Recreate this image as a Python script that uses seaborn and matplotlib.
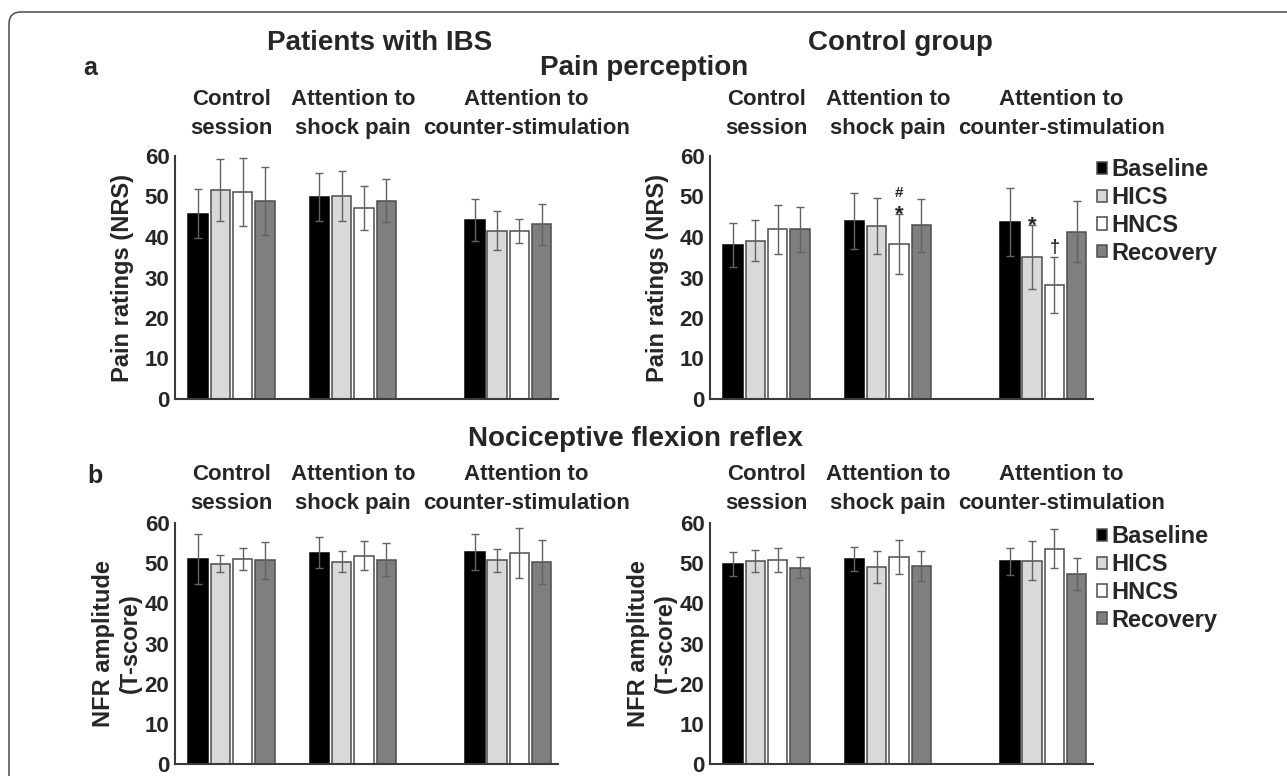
import matplotlib
matplotlib.use("Agg")
import matplotlib.pyplot as plt
import matplotlib.patches as mpatches
import matplotlib.transforms as mtransforms
from matplotlib.container import BarContainer
import pandas as pd
import seaborn as sns

# ---------------------------------------------------------------- data
sessions = ["Control\nsession", "Attention to\nshock pain", "Attention to\ncounter-stimulation"]
conditions = ["Baseline", "HICS", "HNCS", "Recovery"]

# rows = sessions, columns = conditions
ibs_pain_mean = [[45.8, 51.6, 51.1, 48.9], [49.9, 50.1, 47.1, 49.0], [44.1, 41.6, 41.4, 43.1]]
ibs_pain_err = [[6.1, 7.6, 8.4, 8.4], [5.9, 6.1, 5.4, 5.2], [5.2, 4.8, 3.0, 5.0]]
ctrl_pain_mean = [[38.0, 39.1, 41.9, 41.9], [43.9, 42.8, 38.3, 42.9], [43.7, 35.1, 28.2, 41.3]]
ctrl_pain_err = [[5.5, 5.0, 6.0, 5.5], [6.9, 6.9, 7.5, 6.6], [8.3, 7.9, 6.9, 7.5]]
ibs_nfr_mean = [[51.0, 49.9, 51.0, 50.7], [52.6, 50.4, 51.9, 50.8], [52.8, 50.7, 52.6, 50.3]]
ibs_nfr_err = [[6.3, 2.2, 2.7, 4.6], [3.9, 2.6, 3.7, 4.1], [4.5, 2.9, 6.2, 5.4]]
ctrl_nfr_mean = [[49.7, 50.5, 50.8, 48.9], [51.1, 49.1, 51.6, 49.3], [50.5, 50.6, 53.6, 47.3]]
ctrl_nfr_err = [[3.0, 2.8, 3.1, 2.6], [3.0, 4.0, 4.2, 3.8], [3.4, 4.8, 4.9, 3.9]]

# significance symbols on the control group's pain ratings: (session, condition, symbol)
ctrl_pain_marks = [(1, 2, "*"), (1, 2, "#"), (2, 1, "*"), (2, 2, "\u2020")]

yticks = [0, 10, 20, 30, 40, 50, 60]

# ---------------------------------------------------------------- style
sns.set_style("white")
plt.rcParams["font.family"] = ["Liberation Sans", "DejaVu Sans"]
plt.rcParams["font.weight"] = "bold"
plt.rcParams["axes.labelweight"] = "bold"

palette = {"Baseline": "#000000", "HICS": "#d9d9d9", "HNCS": "#ffffff", "Recovery": "#7f7f7f"}
SESSION_X = [0.0, 1.0, 2.28]       # horizontal placement of the session groups
LABEL_SHIFT = [0.0, 0.0, 0.15]     # session header offset from its bar group
XLIM = (-0.465, 2.69)

W, H = 1287, 776
fig = plt.figure(figsize=(W / 100, H / 100), dpi=100)


def px_axes(left, top, right, bottom):
    return fig.add_axes([left / W, 1 - bottom / H, (right - left) / W, (bottom - top) / H])


def fig_text(x, y, s, size, ha="center", **kw):
    fig.text(x / W, 1 - y / H, s, fontsize=size, fontweight="bold", ha=ha, va="baseline", **kw)


def draw_panel(ax, means, errs, ylabel, ylabel_x, show_legend, header_baseline):
    rows = []
    for i, sx in enumerate(SESSION_X):
        for j, cond in enumerate(conditions):
            rows.append({"pos": sx, "condition": cond, "value": means[i][j]})
    df = pd.DataFrame(rows)
    sns.barplot(data=df, x="pos", y="value", hue="condition", hue_order=conditions,
                palette=palette, saturation=1, native_scale=True, width=0.735, gap=0.125,
                edgecolor="#4d4d4d", linewidth=1.1, errorbar=None, legend=show_legend, ax=ax)
    bars = [c for c in ax.containers if isinstance(c, BarContainer)]
    for j, cont in enumerate(bars):
        xs = [b.get_x() + b.get_width() / 2 for b in cont]
        ys = [b.get_height() for b in cont]
        es = [errs[i][j] for i in range(len(SESSION_X))]
        if j == 0:
            for b in cont:
                b.set_edgecolor("#000000")
        ax.errorbar(xs, ys, yerr=es, fmt="none", ecolor="#626262", elinewidth=1.0,
                    capsize=3.2, capthick=1.0, zorder=4)

    ax.set_xlim(*XLIM)
    ax.set_ylim(0, 60)
    ax.set_yticks(yticks)
    ax.set_xticks([])
    ax.set_xlabel("")
    ax.set_ylabel(ylabel, fontsize=17, fontweight="bold", linespacing=1.2)
    ax.yaxis.set_label_coords(ylabel_x, 0.5)
    ax.tick_params(axis="y", length=0, pad=4, labelsize=16)
    for lab in ax.get_yticklabels():
        lab.set_fontweight("bold")
    sns.despine(ax=ax)
    for side in ("left", "bottom"):
        ax.spines[side].set_color("#3a3a3a")
        ax.spines[side].set_linewidth(1.5)

    # session headers above each group of bars (baseline given for the second line)
    trans = mtransforms.blended_transform_factory(ax.transData, fig.transFigure)
    for sx, shift, name in zip(SESSION_X, LABEL_SHIFT, sessions):
        ax.text(sx + shift, 1 - header_baseline / H, name, transform=trans, ha="center",
                va="baseline", fontsize=16, fontweight="bold", linespacing=1.48)

    if show_legend:
        sns.move_legend(ax, "upper left", bbox_to_anchor=(1.01, 0.99), frameon=False,
                        title=None, borderpad=0, borderaxespad=0, handlelength=0.42,
                        handleheight=0.42, handletextpad=0.21, labelspacing=0.2,
                        prop={"size": 17, "weight": "bold"})
    return bars


ax_a1 = px_axes(175, 156, 558, 399)
ax_a2 = px_axes(710, 156, 1093, 399)
ax_b1 = px_axes(175, 523, 558, 764)
ax_b2 = px_axes(710, 523, 1093, 764)

draw_panel(ax_a1, ibs_pain_mean, ibs_pain_err, "Pain ratings (NRS)", -0.107, False, 134)
ctrl_bars = draw_panel(ax_a2, ctrl_pain_mean, ctrl_pain_err, "Pain ratings (NRS)", -0.107, True, 134)
draw_panel(ax_b1, ibs_nfr_mean, ibs_nfr_err, "NFR amplitude\n(T-score)", -0.086, False, 509)
draw_panel(ax_b2, ctrl_nfr_mean, ctrl_nfr_err, "NFR amplitude\n(T-score)", -0.086, True, 509)

# significance symbols, placed from the error-bar tops
mark_style = {"*": (16, -4.9), "#": (11, 11.6), "\u2020": (13, 3.3)}
for si, cj, sym in ctrl_pain_marks:
    bar = ctrl_bars[cj][si]
    x = bar.get_x() + bar.get_width() / 2
    top = ctrl_pain_mean[si][cj] + ctrl_pain_err[si][cj]
    size, off = mark_style[sym]
    ax_a2.annotate(sym, xy=(x, top), xytext=(0, off), textcoords="offset points",
                   ha="center", va="baseline", fontsize=size, fontweight="bold")

# titles and panel letters
fig_text(380, 50, "Patients with IBS", 20)
fig_text(900, 50, "Control group", 20)
fig_text(644, 75, "Pain perception", 20)
fig_text(635, 446, "Nociceptive flexion reflex", 20)
fig_text(83, 75, "a", 18, ha="left")
fig_text(87, 483, "b", 18, ha="left")

# outer frame with a rounded corner
frame = mpatches.FancyBboxPatch((9, -60), 1500, H - 12 + 60,
                                boxstyle="round,pad=0,rounding_size=12",
                                transform=mtransforms.IdentityTransform(),
                                facecolor="none", edgecolor="#4a4a4a", linewidth=1.1)
fig.add_artist(frame)

fig.savefig("out.png", dpi=100)
